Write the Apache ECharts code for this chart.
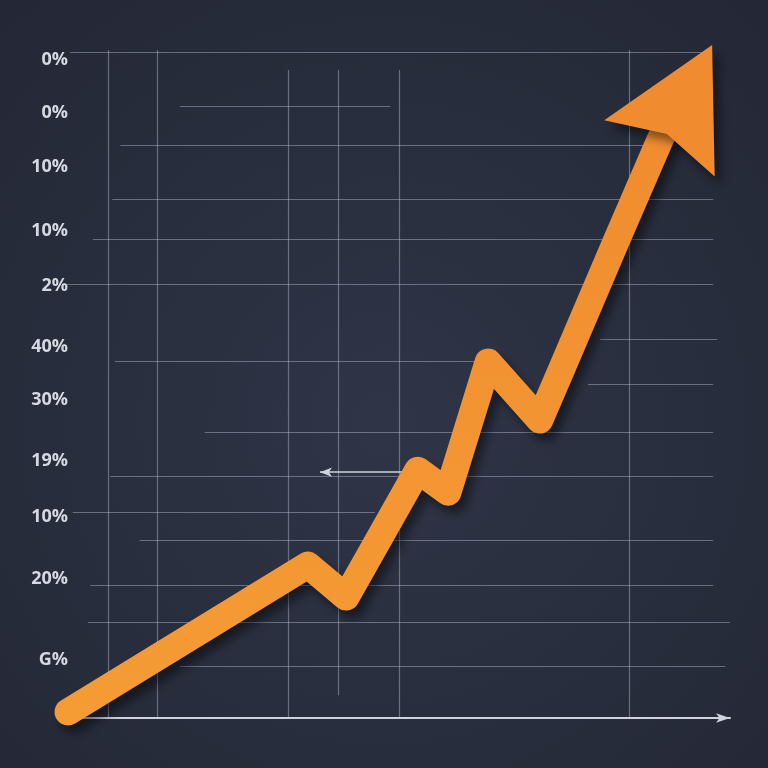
<!DOCTYPE html>
<html>
<head>
<meta charset="utf-8">
<script src="https://cdn.jsdelivr.net/npm/echarts@6/dist/echarts.min.js"></script>
<style>
html,body{margin:0;padding:0;background:#262b3a;}
#chart{width:768px;height:768px;}
</style>
</head>
<body>
<div id="chart"></div>
<script>
// ---- data ----
var tickValues = [98.5, 90.6, 82.5, 72.9, 64.7, 55.5, 47.6, 38.5, 30.1, 20.8, 8.7];
var tickLabels = ['0%', '0%', '10%', '10%', '2%', '40%', '30%', '19%', '10%', '20%', 'G%'];
var lineX = [1.2, 37.0, 42.7, 53.4, 57.9, 63.9, 71.6, 74.6, 83.1, 90.0, 93.4];
var lineY = [0.9, 22.9, 18.1, 37.1, 33.8, 53.3, 44.6, 51.6, 71.6, 87.6, 93.0];
// horizontal grid lines: y value, x from, x to
var hGridY    = [99.7, 91.6, 85.8, 77.7, 71.6, 65.0, 56.7, 53.4, 50.0, 42.8, 36.2, 30.8, 26.6, 19.9, 14.4, 7.8];
var hGridFrom = [1.5, 17.9, 9.0, 7.8, 4.9, 0.7, 80.6, 8.2, 78.8, 21.6, 7.5, 1.9, 11.9, 4.5, 4.2, 17.9];
var hGridTo   = [96.3, 49.3, 88.1, 97.5, 97.5, 97.5, 98.1, 62.7, 97.5, 97.5, 97.5, 47.0, 97.5, 97.5, 100, 99.3];
// vertical grid lines: x value, y from, y to
var vGridX    = [7.2, 14.5, 34.0, 41.6, 50.6, 84.9];
var vGridFrom = [0, 0, 0, 3.4, 0, 0];
var vGridTo   = [100, 100, 97, 97, 97, 100];
// small pointer arrow
var pointerY = 36.8, pointerFrom = 38.8, pointerTo = 52.0;

var chart = echarts.init(document.getElementById('chart'));

var lineData = lineX.map(function (x, i) { return [x, lineY[i]]; });
var last = lineData.length - 1;
lineData[last] = {
  value: lineData[last],
  symbol: 'path://M50 0 L100 100 L50 86 L0 100 Z',
  symbolSize: [124, 116],
  symbolRotate: -27,
  symbolKeepAspect: false,
  itemStyle: { color: '#f08c2f', shadowColor: 'rgba(0,0,0,0.45)', shadowBlur: 10, shadowOffsetX: 6, shadowOffsetY: 8 }
};

var gridLines = [];
hGridY.forEach(function (y, i) {
  gridLines.push([{ coord: [hGridFrom[i], y] }, { coord: [hGridTo[i], y] }]);
});
vGridX.forEach(function (x, i) {
  gridLines.push([{ coord: [x, vGridFrom[i]] }, { coord: [x, vGridTo[i]] }]);
});

var option = {
  backgroundColor: new echarts.graphic.RadialGradient(0.5, 0.55, 0.75, [
    { offset: 0, color: '#2f3547' },
    { offset: 1, color: '#232735' }
  ]),
  animation: false,
  grid: { left: 60, right: 38, top: 50, bottom: 50 },
  xAxis: {
    type: 'value', min: 0, max: 100,
    axisLine: { show: true, symbol: ['none', 'arrow'], symbolSize: [7, 14], lineStyle: { color: '#cfd3dd', width: 2 } },
    axisTick: { show: false }, axisLabel: { show: false }, splitLine: { show: false }
  },
  yAxis: {
    type: 'value', min: 0, max: 100,
    axisLine: { show: false }, axisTick: { show: false }, splitLine: { show: false },
    axisLabel: {
      customValues: tickValues,
      margin: -8,
      color: '#d6d9e1',
      fontSize: 18,
      fontWeight: 'bold',
      fontFamily: 'Open Sans',
      formatter: function (v) {
        var i = tickValues.indexOf(v);
        return i >= 0 ? tickLabels[i] : '';
      }
    }
  },
  series: [
    {
      type: 'line',
      data: [],
      silent: true,
      markLine: {
        silent: true,
        symbol: ['none', 'none'],
        label: { show: false },
        lineStyle: { color: 'rgba(195,203,222,0.42)', width: 1.2, type: 'solid' },
        emphasis: { disabled: true },
        data: gridLines
      }
    },
    {
      type: 'line',
      data: [],
      silent: true,
      markLine: {
        silent: true,
        symbol: ['arrow', 'none'],
        symbolSize: [7, 12],
        label: { show: false },
        lineStyle: { color: '#cfd3dd', width: 1.5, type: 'solid' },
        emphasis: { disabled: true },
        data: [[{ coord: [pointerFrom, pointerY] }, { coord: [pointerTo, pointerY] }]]
      }
    },
    {
      type: 'line',
      data: lineData,
      symbol: 'none',
      showSymbol: true,
      clip: false,
      z: 5,
      lineStyle: {
        width: 27,
        cap: 'round',
        join: 'round',
        color: new echarts.graphic.LinearGradient(0, 1, 0, 0, [
          { offset: 0, color: '#f59c35' },
          { offset: 1, color: '#f08b2f' }
        ]),
        shadowColor: 'rgba(0,0,0,0.45)',
        shadowBlur: 10,
        shadowOffsetX: 6,
        shadowOffsetY: 8
      }
    }
  ]
};
chart.setOption(option);
</script>
</body>
</html>
